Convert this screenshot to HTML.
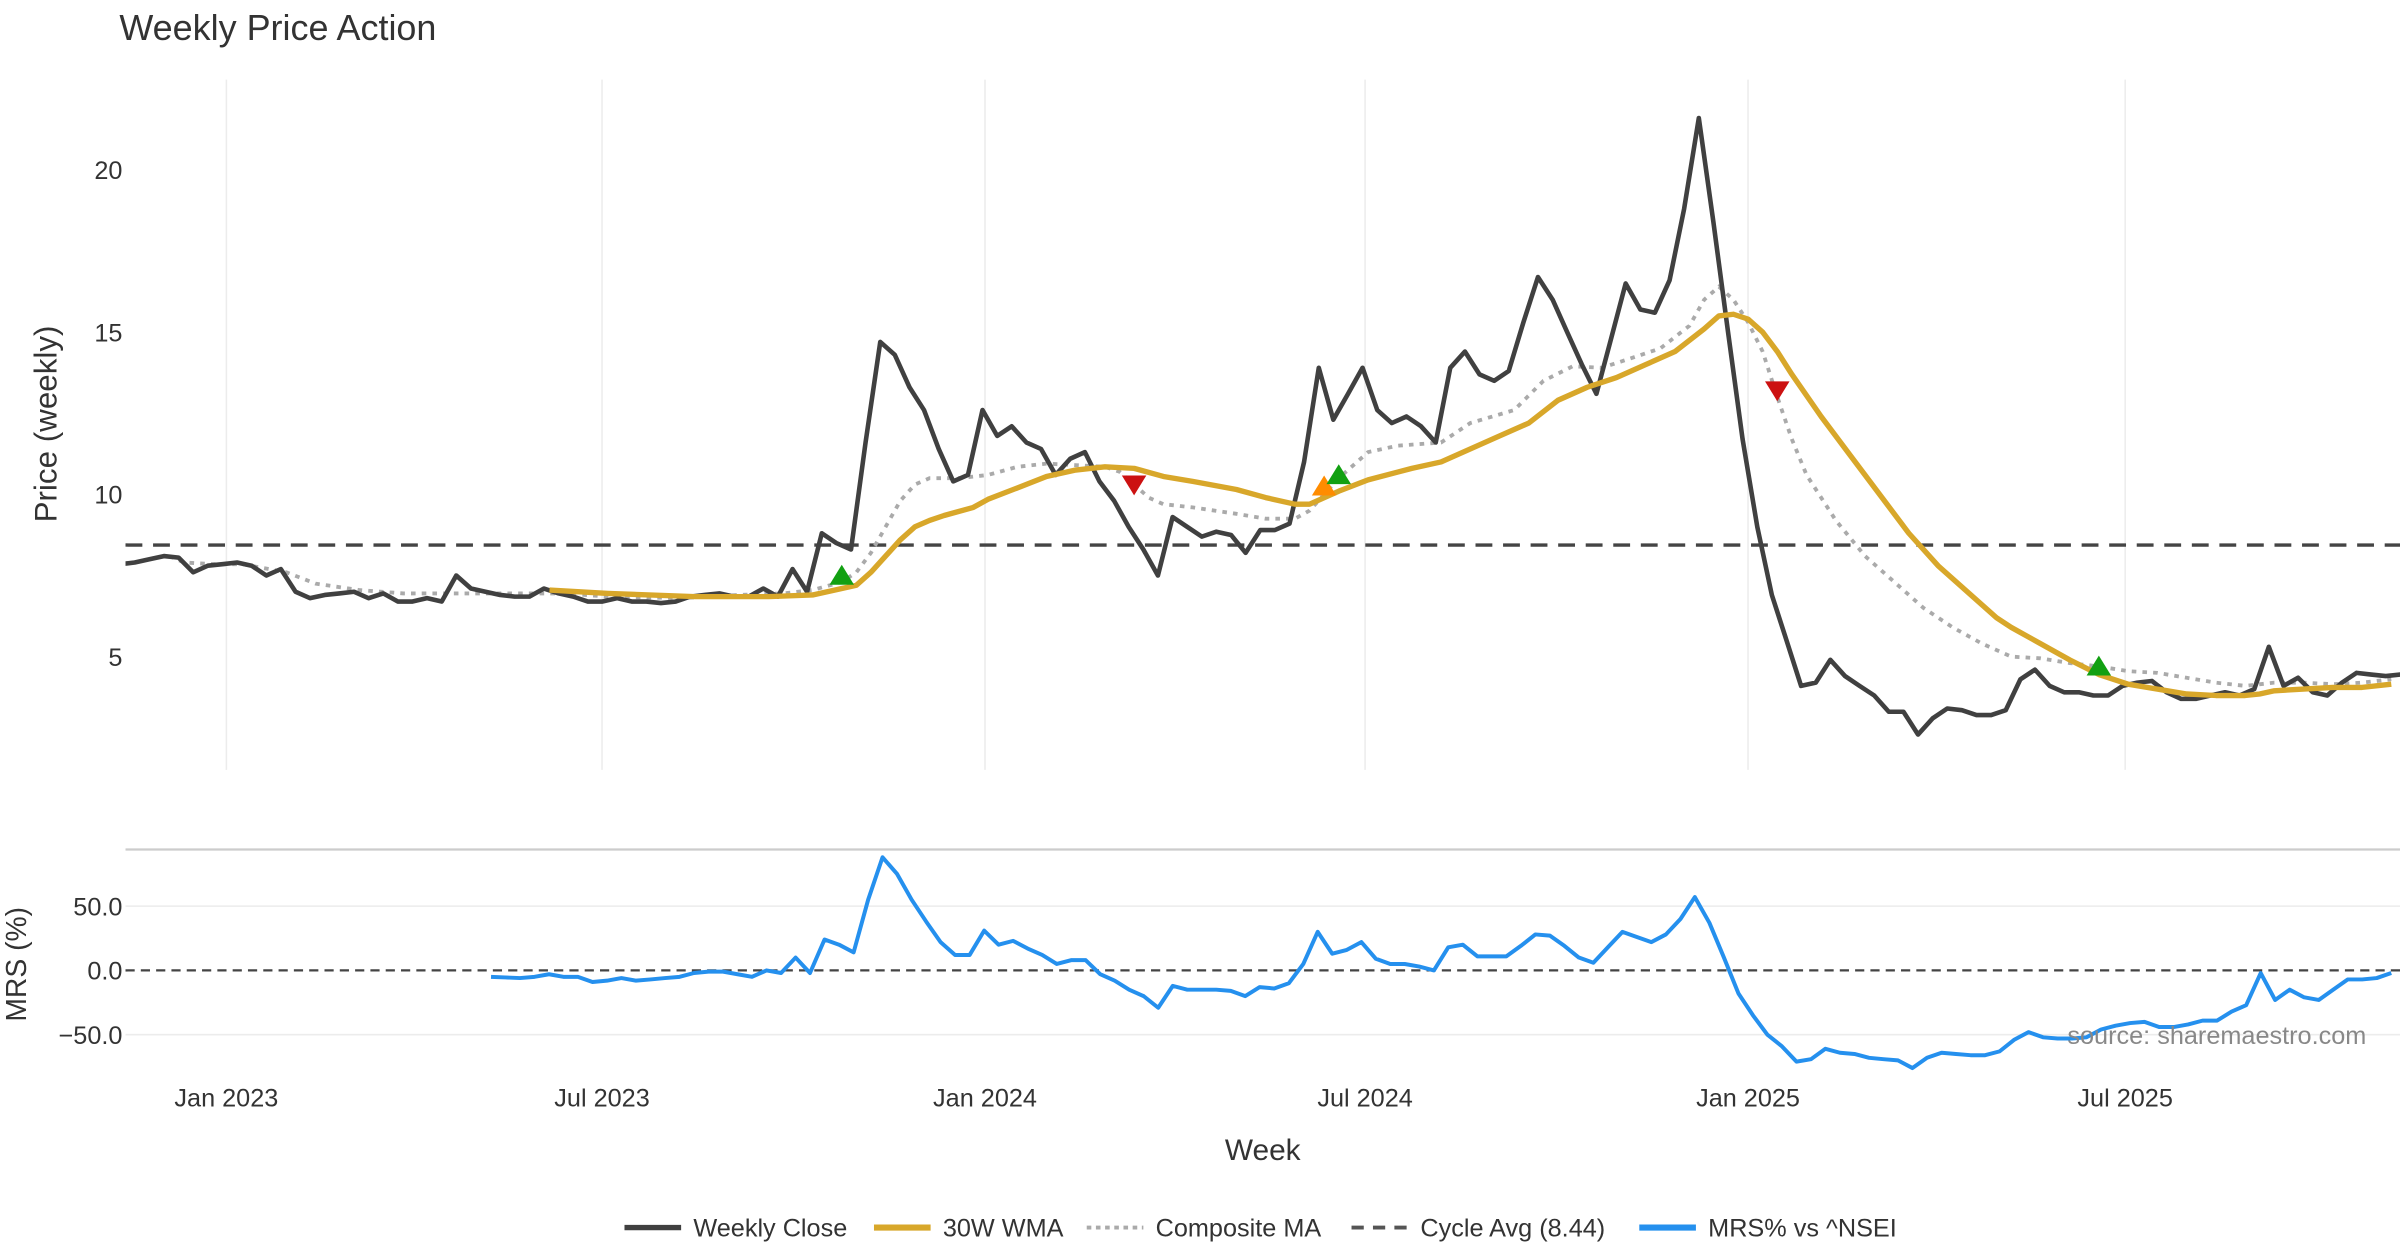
<!DOCTYPE html>
<html><head><meta charset="utf-8"><title>Weekly Price Action</title>
<style>
html,body{margin:0;padding:0;background:#fff;}
svg{display:block;font-family:"Liberation Sans","DejaVu Sans",sans-serif;}
</style></head>
<body>
<svg id="chart" width="2400" height="1260" viewBox="0 0 1568 823.2" xmlns="http://www.w3.org/2000/svg">
<defs><clipPath id="plotclip"><rect x="82" y="0" width="1486" height="823"/></clipPath></defs>
<text x="78" y="26" font-size="23.5" fill="#333">Weekly Price Action</text>
<text transform="translate(37,277) rotate(-90)" text-anchor="middle" font-size="20.5" fill="#333">Price (weekly)</text>
<text transform="translate(17,630) rotate(-90)" text-anchor="middle" font-size="18.5" fill="#333">MRS (%)</text>
<text x="825" y="758" text-anchor="middle" font-size="19.5" fill="#333">Week</text>
<line x1="82" y1="555" x2="1568" y2="555" stroke="#ccc" stroke-width="1.5"/>
<g id="grid"></g>
<g id="series" clip-path="url(#plotclip)"></g>
<text x="1546" y="682" text-anchor="end" font-size="16.5" fill="#888">source: sharemaestro.com</text>
<g id="legend"></g>
</svg>
<script>
const dateTicks = ["Jan 2023","Jul 2023","Jan 2024","Jul 2024","Jan 2025","Jul 2025"];
const dateTickWeeks = [6.9, 32.6, 58.8, 84.8, 111, 136.8];
const priceTicks = [5, 10, 15, 20];
const mrsTicks = [50, 0, -50];
const cycleAvg = 8.44;
const closeVals = [7.85,7.9,8.0,8.1,8.05,7.6,7.8,7.85,7.9,7.8,7.5,7.7,7.0,6.8,6.9,6.95,7.0,6.8,6.95,6.7,6.7,6.8,6.7,7.5,7.1,7.0,6.9,6.85,6.85,7.1,6.95,6.85,6.7,6.7,6.8,6.7,6.7,6.65,6.7,6.85,6.9,6.95,6.85,6.85,7.1,6.85,7.7,7.0,8.8,8.5,8.3,11.6,14.7,14.3,13.3,12.6,11.4,10.4,10.6,12.6,11.8,12.1,11.6,11.4,10.6,11.1,11.3,10.4,9.8,9.0,8.3,7.5,9.3,9.0,8.7,8.85,8.75,8.2,8.9,8.9,9.1,11.0,13.9,12.3,13.1,13.9,12.6,12.2,12.4,12.1,11.6,13.9,14.4,13.7,13.5,13.8,15.3,16.7,16.0,15.0,14.0,13.1,14.8,16.5,15.7,15.6,16.6,18.8,21.6,18.4,15.0,11.7,9.0,6.9,5.5,4.1,4.2,4.9,4.4,4.1,3.8,3.3,3.3,2.6,3.1,3.4,3.35,3.2,3.2,3.35,4.3,4.6,4.1,3.9,3.9,3.8,3.8,4.1,4.2,4.25,3.9,3.7,3.7,3.8,3.9,3.8,4.0,5.3,4.1,4.35,3.9,3.8,4.2,4.5,4.45,4.4,4.45];
const closeStartWeek = -0.37;
const wmaWeeks = [29,33,39,44,47,49,50,51,52,53,54,55,56,58,59,61,63,65,67,69,71,73,76,78,80,81,83,85,88,90,92,94,96,98,100,102,104,106,108,109,110,111,112,113,114,116,118,120,122,124,126,128,129,131,133,135,137,139,141,143,145,146,147,149,151,153,155];
const wmaVals = [7.05,6.95,6.85,6.85,6.9,7.1,7.2,7.6,8.1,8.6,9.0,9.2,9.35,9.6,9.85,10.2,10.55,10.75,10.85,10.8,10.55,10.4,10.15,9.9,9.7,9.7,10.1,10.45,10.8,11.0,11.4,11.8,12.2,12.9,13.3,13.6,14.0,14.4,15.1,15.5,15.55,15.4,15.0,14.4,13.7,12.4,11.2,10.0,8.8,7.8,7.0,6.2,5.9,5.4,4.9,4.45,4.15,4.0,3.85,3.8,3.8,3.85,3.95,4.0,4.05,4.05,4.15];
const compWeeks = [3,4,6,8,11,13,16,19,23,27,30,33,38,42,45,47,49,50,51,52,53,54,55,57,59,61,63,65,67,68,69,70,71,73,76,78,80,81,82,83,85,87,90,92,95,97,99,101,103,105,107,108,109,110,111,112,113,114,115,117,119,121,123,125,127,129,131,133,135,137,139,141,143,145,147,149,151,153,155];
const compVals = [8.1,7.9,7.85,7.85,7.6,7.25,7.05,6.95,6.95,6.95,6.95,6.85,6.8,6.9,6.95,7.05,7.3,7.6,8.2,9.0,9.8,10.3,10.5,10.5,10.6,10.85,10.95,10.9,10.85,10.7,10.3,9.9,9.7,9.6,9.4,9.25,9.25,9.5,10.0,10.5,11.3,11.5,11.6,12.2,12.6,13.5,13.95,13.9,14.2,14.5,15.2,16.0,16.4,16.0,15.3,14.4,13.0,11.7,10.6,9.2,8.1,7.3,6.5,5.9,5.4,5.0,4.95,4.8,4.7,4.55,4.5,4.35,4.2,4.1,4.2,4.2,4.15,4.2,4.3];
const mrsVals = [-5,-5.5,-6,-5,-3,-5,-5,-9,-8,-6,-8,-7,-6,-5,-2,-1,-1,-3,-5,0,-2,10,-2,24,20,14,55,88,75,55,38,22,12,12,31,20,23,17,12,5,8,8,-3,-8,-15,-20,-29,-12,-15,-15,-15,-16,-20,-13,-14,-10,5,30,13,16,22,9,5,5,3,0,18,20,11,11,11,19,28,27,19,10,6,18,30,26,22,28,40,57,37,10,-18,-35,-50,-59,-71,-69,-61,-64,-65,-68,-69,-70,-76,-68,-64,-65,-66,-66,-63,-54,-48,-52,-53,-53,-52,-46,-43,-41,-40,-44,-44,-42,-39,-39,-32,-27,-2,-23,-15,-21,-23,-15,-7,-7,-6,-2];
const mrsStartWeek = 25, mrsEndWeek = 155;
const signalWeeks = [49, 69, 82, 83, 113, 135];
const signalVals = [7.5, 10.3, 10.25, 10.6, 13.2, 4.7];
const signalTypes = ["buy","sell","watch","buy","sell","buy"];

const NS = "http://www.w3.org/2000/svg";
const X0 = 82, XW = 9.55;
const xScale = w => X0 + w * XW;
const yPrice = v => 429 - (v - 5) * 21.2;
const yMrs = v => 634 - v * 0.84;
function mk(tag, attrs, parent) {
  const e = document.createElementNS(NS, tag);
  for (const k in attrs) e.setAttribute(k, attrs[k]);
  parent.appendChild(e);
  return e;
}
const grid = document.getElementById('grid');
const series = document.getElementById('series');

dateTicks.forEach((t, i) => {
  const x = xScale(dateTickWeeks[i]);
  const gl = mk('line', {x1:x, y1:52, x2:x, y2:503, stroke:'#ececec', 'stroke-width':1}, grid);
  
  
  const tx = mk('text', {x:x, y:723, 'text-anchor':'middle', 'font-size':16.5, fill:'#333'}, grid);
  tx.textContent = t;
  
  
});
priceTicks.forEach(v => {
  const tx = mk('text', {x:80, y:yPrice(v)+6, 'text-anchor':'end', 'font-size':16.5, fill:'#333'}, grid);
  tx.textContent = v;
  
  
});
mrsTicks.forEach(v => {
  const y = yMrs(v);
  if (v !== 0) {
    const gl = mk('line', {x1:82, y1:y, x2:1568, y2:y, stroke:'#ececec', 'stroke-width':1}, grid);
    
    
  }
  const tx = mk('text', {x:80, y:y+6, 'text-anchor':'end', 'font-size':16.5, fill:'#333'}, grid);
  tx.textContent = v.toFixed(1).replace('-', '\u2212');
  
  
});
const zl = mk('line', {x1:82, y1:yMrs(0), x2:1568, y2:yMrs(0), stroke:'#444', 'stroke-width':1.5, 'stroke-dasharray':'6,4'}, grid);


const ca = mk('line', {x1:82, y1:yPrice(cycleAvg), x2:1568, y2:yPrice(cycleAvg), stroke:'#444', 'stroke-width':2.2, 'stroke-dasharray':'11,7'}, grid);



function stepPts(vals, s, yf) {
  return vals.map((v, i) => xScale(s + i).toFixed(1) + ',' + yf(v).toFixed(1)).join(' ');
}
function spreadPts(vals, s, e, yf) {
  const n = vals.length;
  return vals.map((v, i) => xScale(s + i * (e - s) / (n - 1)).toFixed(1) + ',' + yf(v).toFixed(1)).join(' ');
}
function pairPts(ws, vs, yf) {
  return ws.map((w, i) => xScale(w).toFixed(1) + ',' + yf(vs[i]).toFixed(1)).join(' ');
}
const comp = mk('polyline', {points:pairPts(compWeeks, compVals, yPrice), fill:'none', stroke:'#aaa', 'stroke-width':2.5, 'stroke-dasharray':'3,4'}, series);


const close = mk('polyline', {points:stepPts(closeVals, closeStartWeek, yPrice), fill:'none', stroke:'#404040', 'stroke-width':3, 'stroke-linejoin':'round'}, series);


const wma = mk('polyline', {points:pairPts(wmaWeeks, wmaVals, yPrice), fill:'none', stroke:'#d8a72a', 'stroke-width':3.5, 'stroke-linejoin':'round'}, series);


const mrs = mk('polyline', {points:spreadPts(mrsVals, mrsStartWeek, mrsEndWeek, yMrs), fill:'none', stroke:'#2590ee', 'stroke-width':2.6, 'stroke-linejoin':'round'}, series);



signalWeeks.forEach((w, i) => {
  const x = xScale(w), y = yPrice(signalVals[i]);
  const t = signalTypes[i];
  const col = t === 'buy' ? '#12a012' : t === 'watch' ? '#ff8c00' : '#cc1111';
  const pts = t === 'sell'
    ? `${x-8},${y-6} ${x+8},${y-6} ${x},${y+7}`
    : `${x-8},${y+6} ${x+8},${y+6} ${x},${y-7}`;
  const m = mk('polygon', {points:pts, fill:col}, series);
  
  
});

const legend = document.getElementById('legend');
const legItems = [
  {label:'Weekly Close', x:408, stroke:'#404040', dash:'', w:3.5},
  {label:'30W WMA', x:571, stroke:'#d8a72a', dash:'', w:4},
  {label:'Composite MA', x:710, stroke:'#aaa', dash:'3,3', w:2.5},
  {label:'Cycle Avg (8.44)', x:883, stroke:'#555', dash:'8,6', w:2.5},
  {label:'MRS% vs ^NSEI', x:1071, stroke:'#2590ee', dash:'', w:4}
];
legItems.forEach(it => {
  const l = mk('line', {x1:it.x, y1:802, x2:it.x+37, y2:802, stroke:it.stroke, 'stroke-width':it.w, 'stroke-dasharray':it.dash}, legend);
  
  
  const tx = mk('text', {x:it.x+45, y:808, 'font-size':16.5, fill:'#333'}, legend);
  tx.textContent = it.label;
  
  
});
</script>
</body></html>
